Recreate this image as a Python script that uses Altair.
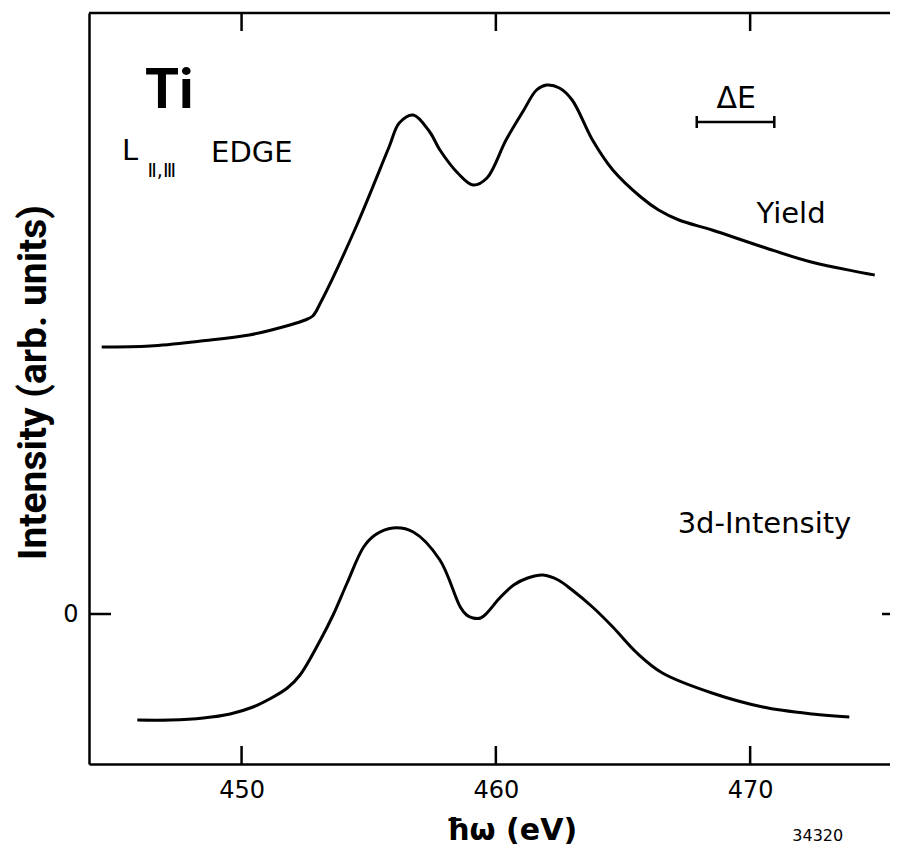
import altair as alt
import pandas as pd

# ---- data ----
yield_energy = [444.5, 446.4, 448.4, 450.3, 451.9, 452.5, 452.8, 453.1, 454.5, 455.8,
                456.2, 456.75, 457.4, 457.8, 458.5, 459.1, 459.65, 460.4, 461.1, 461.6,
                462.0, 462.5, 463.0, 463.8, 464.6, 465.7, 466.4, 467.2, 468.5, 470.5,
                472.4, 474.9]
yield_intensity = [2.67, 2.68, 2.73, 2.79, 2.89, 2.94, 2.98, 3.11, 3.87, 4.67,
                   4.91, 4.99, 4.82, 4.64, 4.41, 4.29, 4.36, 4.74, 5.04, 5.24,
                   5.29, 5.26, 5.14, 4.74, 4.44, 4.17, 4.04, 3.94, 3.84, 3.67,
                   3.52, 3.39]

d3_energy = [445.9, 447.2, 448.5, 449.55, 450.45, 451.1, 451.8, 452.3, 453.1, 453.6,
             454.15, 454.8, 455.25, 455.95, 456.75, 457.8, 458.6, 458.85, 459.1, 459.4,
             459.65, 460.15, 460.7, 461.25, 461.85, 462.45, 463.0, 463.8, 464.6, 465.55,
             466.55, 468.5, 470.5, 472.45, 473.9]
d3_intensity = [-1.06, -1.06, -1.04, -1.00, -0.93, -0.85, -0.74, -0.61, -0.26, -0.01,
                0.31, 0.67, 0.79, 0.86, 0.82, 0.54, 0.07, -0.01, -0.04, -0.04,
                0.01, 0.16, 0.29, 0.36, 0.39, 0.34, 0.24, 0.07, -0.13, -0.39,
                -0.59, -0.79, -0.93, -1.00, -1.03]

x_ticks = [450, 460, 470]
y_ticks = [0]
x_domain = [444.0, 475.5]
y_domain = [-1.5, 6.01]

# resolution bar (Delta E)
de_start, de_end, de_level = 467.9, 470.95, 4.92
de_cap_low, de_cap_high = 4.86, 4.98

# annotations
ann_big = pd.DataFrame({"energy": [446.2], "intensity": [5.06], "text": ["Ti"]})
ann_label = pd.DataFrame({
    "energy": [445.3, 448.8, 467.15, 470.25],
    "intensity": [4.54, 4.52, 0.81, 3.91],
    "text": ["L", "EDGE", "3d-Intensity", "Yield"],
})
ann_sub = pd.DataFrame({"energy": [446.3], "intensity": [4.37], "text": ["Ⅱ,Ⅲ"]})
ann_de = pd.DataFrame({"energy": [469.45], "intensity": [5.06], "text": ["ΔE"]})
ann_id = pd.DataFrame({"energy": [472.66], "intensity": [-2.27], "text": ["34320"]})

W, H = 801, 751
FONT = "DejaVu Sans"

curves = pd.DataFrame({
    "energy": yield_energy + d3_energy,
    "intensity": yield_intensity + d3_intensity,
    "series": ["Yield"] * len(yield_energy) + ["3d-Intensity"] * len(d3_energy),
})

xs = alt.Scale(domain=x_domain, nice=False, zero=False)
ys = alt.Scale(domain=y_domain, nice=False, zero=False)

lines = alt.Chart(curves).mark_line(
    color="black", strokeWidth=3, interpolate="catmull-rom"
).encode(
    x=alt.X("energy:Q", scale=xs, axis=alt.Axis(
        values=x_ticks, format="d", tickSize=0, grid=False,
        labelFont=FONT, labelFontSize=24, labelColor="black", labelPadding=14,
        domainColor="black", domainWidth=2.5,
        title="ħω (eV)", titleFont=FONT, titleFontSize=30, titleFontWeight="bold",
        titleColor="black", titleX=422, titleY=66, titleAlign="center",
        titleBaseline="middle")),
    y=alt.Y("intensity:Q", scale=ys, axis=alt.Axis(
        values=y_ticks, format="d", tickSize=0, grid=False,
        labelFont=FONT, labelFontSize=24, labelColor="black", labelPadding=11,
        domainColor="black", domainWidth=2.5,
        title="Intensity (arb. units)", titleFont="Roboto", titleFontSize=39,
        titleFontWeight="bold", titleColor="black", titleX=-56, titleY=369,
        titleAngle=270, titleAlign="center", titleBaseline="middle")),
    detail="series:N",
)

# frame top line and inward ticks
top_line = alt.Chart(pd.DataFrame({"k": [0]})).mark_rule(
    color="black", strokeWidth=2.5
).encode(x=alt.value(0), x2=alt.value(W), y=alt.value(0))

tick_df = pd.DataFrame({"energy": x_ticks})
bottom_ticks = alt.Chart(tick_df).mark_rule(color="black", strokeWidth=2.5).encode(
    x=alt.X("energy:Q", scale=xs), y=alt.value(H), y2=alt.value(H - 18))
top_ticks = alt.Chart(tick_df).mark_rule(color="black", strokeWidth=2.5).encode(
    x=alt.X("energy:Q", scale=xs), y=alt.value(0), y2=alt.value(18))

ytick_df = pd.DataFrame({"intensity": y_ticks})
left_tick = alt.Chart(ytick_df).mark_rule(color="black", strokeWidth=2.5).encode(
    y=alt.Y("intensity:Q", scale=ys), x=alt.value(0), x2=alt.value(22))
right_tick = alt.Chart(ytick_df).mark_rule(color="black", strokeWidth=2.5).encode(
    y=alt.Y("intensity:Q", scale=ys), x=alt.value(W - 8), x2=alt.value(W))

# Delta E bar
de_bar = alt.Chart(pd.DataFrame({"a": [de_start], "b": [de_end], "y": [de_level]})).mark_rule(
    color="black", strokeWidth=2.5).encode(
    x=alt.X("a:Q", scale=xs), x2="b:Q", y=alt.Y("y:Q", scale=ys))
de_caps = alt.Chart(pd.DataFrame({"e": [de_start, de_end], "lo": [de_cap_low] * 2,
                                  "hi": [de_cap_high] * 2})).mark_rule(
    color="black", strokeWidth=2.5).encode(
    x=alt.X("e:Q", scale=xs), y=alt.Y("lo:Q", scale=ys), y2="hi:Q")

def text_layer(df, size, weight="normal", font=FONT, align="left"):
    return alt.Chart(df).mark_text(
        font=font, fontSize=size, fontWeight=weight, color="black",
        align=align, baseline="alphabetic", clip=False
    ).encode(x=alt.X("energy:Q", scale=xs), y=alt.Y("intensity:Q", scale=ys),
             text="text:N")

t_ti = text_layer(ann_big, 55, "bold", "Roboto")
t_lab = text_layer(ann_label, 29)
t_sub = text_layer(ann_sub, 19)
t_de = text_layer(ann_de, 30, align="center")
t_id = text_layer(ann_id, 16, align="center")

chart = alt.layer(
    lines, top_line, bottom_ticks, top_ticks, left_tick, right_tick,
    de_bar, de_caps, t_ti, t_lab, t_sub, t_de, t_id
).properties(
    width=W, height=H,
    autosize=alt.AutoSizeParams(type="none"),
    padding={"left": 81, "top": 5, "right": 0, "bottom": 87},
    background="white",
).configure_view(stroke=None)

chart.save("out.html", embed_options={"renderer": "svg", "actions": False})
